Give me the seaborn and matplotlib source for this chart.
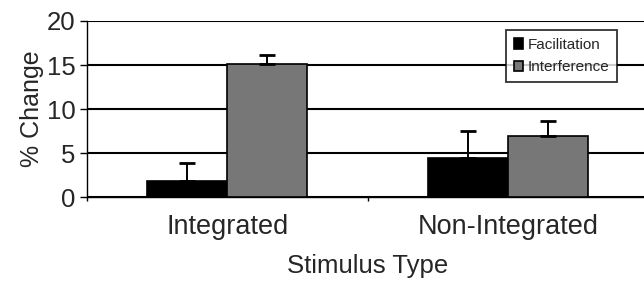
import pandas as pd
import matplotlib
matplotlib.use("Agg")
import matplotlib.pyplot as plt
import seaborn as sns

# values
stimulus = ["Integrated", "Non-Integrated"]
conditions = ["Facilitation", "Interference"]
facilitation = [1.9, 4.5]
interference = [15.15, 7.0]
facilitation_err = [1.95, 3.0]
interference_err = [0.95, 1.7]

df = pd.DataFrame({
    "Stimulus Type": stimulus * 2,
    "Condition": [conditions[0]] * 2 + [conditions[1]] * 2,
    "Change": facilitation + interference,
    "Err": facilitation_err + interference_err,
})

sns.set_style("white")
plt.rcParams["font.family"] = ["Liberation Sans", "DejaVu Sans"]

fig = plt.figure(figsize=(6.44, 2.83), dpi=100)
ax = fig.add_axes([0.1346, 0.3028, 0.8727, 0.623])

sns.barplot(
    data=df, x="Stimulus Type", y="Change", hue="Condition",
    hue_order=conditions, order=stimulus,
    palette={"Facilitation": "#000000", "Interference": "#777777"},
    width=0.57, errorbar=None, edgecolor="black", linewidth=1.2,
    saturation=1, ax=ax, zorder=3,
)

# upward-only error bars at the bar centres
for cont, cond in zip(ax.containers, conditions):
    sub = df[df["Condition"] == cond].set_index("Stimulus Type").loc[stimulus]
    xs = [p.get_x() + p.get_width() / 2 for p in cont.patches]
    ax.errorbar(xs, sub["Change"], yerr=[[0] * len(xs), sub["Err"]],
                fmt="none", ecolor="black", elinewidth=1.4, capsize=5.5,
                capthick=2, zorder=4)

ax.set_xlim(-0.5, 1.5)
ax.set_ylim(0, 20)
ax.set_yticks([0, 5, 10, 15, 20])
ax.yaxis.grid(True, color="black", linewidth=1.5, zorder=0)
ax.set_axisbelow(True)

for side in ["right", "top"]:
    ax.spines[side].set_visible(False)
for side in ["left", "bottom"]:
    ax.spines[side].set_color("black")
    ax.spines[side].set_linewidth(1.0)

ax.tick_params(axis="y", which="major", direction="out", length=5,
               width=1, color="black", labelsize=18.5, pad=3, left=True)
ax.tick_params(axis="x", which="major", length=0, labelsize=19.5, pad=12)
ax.set_xticks([-0.5, 0.5, 1.5], minor=True)
ax.tick_params(axis="x", which="minor", direction="out", length=3,
               width=1, color="black", bottom=True)

ax.set_xlabel("Stimulus Type", fontsize=18.5, labelpad=10)
ax.set_ylabel("% Change", fontsize=18, labelpad=2)

leg = ax.legend(loc="upper left", bbox_to_anchor=(0.733, 0.99),
                fontsize=11, frameon=True, fancybox=False,
                edgecolor="black", handlelength=0.6, handleheight=0.7,
                handletextpad=0.3, borderpad=0.5, labelspacing=0.55,
                title=None)
leg.get_frame().set_linewidth(1.3)
leg.set_zorder(5)

fig.savefig("out.png", dpi=100)
